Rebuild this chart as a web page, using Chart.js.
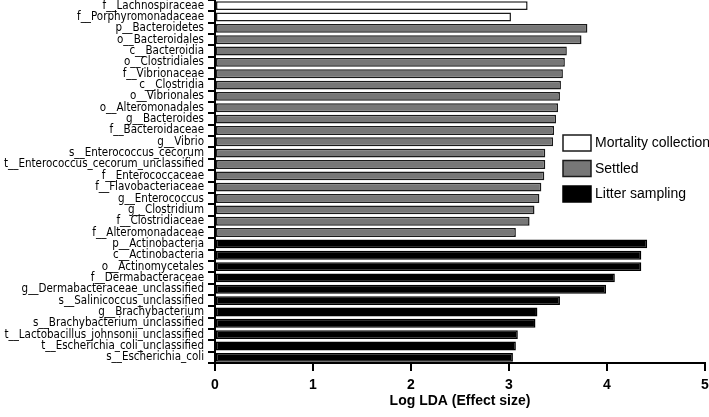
<!DOCTYPE html>
<html>
<head>
<meta charset="utf-8">
<script src="https://cdn.jsdelivr.net/npm/chart.js@4.4.0/dist/chart.umd.min.js"></script>
<style>
  html, body { margin: 0; padding: 0; background: #fff; }
  #wrap { width: 709px; height: 417px; position: relative; }
</style>
</head>
<body>
<div id="wrap"><canvas id="ldaChart"></canvas></div>
<script>
// groups, top to bottom
const groupNames = ['Mortality collection', 'Settled', 'Litter sampling'];

const mortalityLabels = ['f__Lachnospiraceae', 'f__Porphyromonadaceae'];
const mortalityValues = [3.19, 3.02];

const settledLabels = [
    'p__Bacteroidetes', 'o__Bacteroidales', 'c__Bacteroidia', 'o__Clostridiales',
    'f__Vibrionaceae', 'c__Clostridia', 'o__Vibrionales', 'o__Alteromonadales',
    'g__Bacteroides', 'f__Bacteroidaceae', 'g__Vibrio', 's__Enterococcus_cecorum',
    't__Enterococcus_cecorum_unclassified', 'f__Enterococcaceae', 'f__Flavobacteriaceae',
    'g__Enterococcus', 'g__Clostridium', 'f__Clostridiaceae', 'f__Alteromonadaceae'
];
const settledValues = [3.80, 3.74, 3.59, 3.57, 3.55, 3.53, 3.52, 3.50, 3.48, 3.46, 3.45,
    3.37, 3.37, 3.36, 3.33, 3.31, 3.26, 3.21, 3.07];

const litterLabels = [
    'p__Actinobacteria', 'c__Actinobacteria', 'o__Actinomycetales', 'f__Dermabacteraceae',
    'g__Dermabacteraceae_unclassified', 's__Salinicoccus_unclassified', 'g__Brachybacterium',
    's__Brachybacterium_unclassified', 't__Lactobacillus_johnsonii_unclassified',
    't__Escherichia_coli_unclassified', 's__Escherichia_coli'
];
const litterValues = [4.41, 4.35, 4.35, 4.08, 3.99, 3.52, 3.29, 3.27, 3.09, 3.07, 3.04];

const xTicks = [0, 1, 2, 3, 4, 5];

const allLabels = mortalityLabels.concat(settledLabels, litterLabels);
const groupLabels = [mortalityLabels, settledLabels, litterLabels];
const groupValues = [mortalityValues, settledValues, litterValues];
const fills = ['#ffffff', '#777777', '#000000'];
const borders = ['#1a1a1a', '#1a1a1a', '#000000'];

// one dataset per group, null where the category belongs to another group
const datasets = [];
for (let g = 0; g < groupNames.length; g++) {
    const data = allLabels.map(function(lab) {
        const i = groupLabels[g].indexOf(lab);
        return i >= 0 ? groupValues[g][i] : null;
    });
    datasets.push({
        label: groupNames[g],
        data: data,
        backgroundColor: fills[g],
        borderColor: borders[g],
        borderWidth: 1.5,
        borderSkipped: false,
        barPercentage: 0.78,
        categoryPercentage: 1.0,
        grouped: false
    });
}

// legend drawn inside the plot, boxes + text
const boxLegend = {
    id: 'boxLegend',
    afterDraw(chart) {
        const ctx = chart.ctx;
        ctx.save();
        ctx.font = '14px "Liberation Sans", Arial, sans-serif';
        ctx.textBaseline = 'middle';
        ctx.textAlign = 'left';
        const x = 563, y0 = 135, step = 25.5;
        for (let g = 0; g < groupNames.length; g++) {
            const y = y0 + g * step;
            ctx.fillStyle = fills[g];
            ctx.fillRect(x, y, 28, 16);
            ctx.lineWidth = 1.5;
            ctx.strokeStyle = borders[g];
            ctx.strokeRect(x, y, 28, 16);
            ctx.fillStyle = '#000';
            ctx.fillText(groupNames[g], x + 32, y + 8.5);
        }
        ctx.restore();
    }
};

const ctx = document.getElementById('ldaChart').getContext('2d');
const myChart = new Chart(ctx, {
    type: 'bar',
    data: {
        labels: allLabels,
        datasets: datasets
    },
    options: {
        indexAxis: 'y',
        responsive: true,
        maintainAspectRatio: false,
        animation: false,
        layout: { padding: { top: 0, right: 4, left: 0, bottom: 0 } },
        plugins: {
            legend: { display: false },
            tooltip: { enabled: false }
        },
        scales: {
            x: {
                type: 'linear',
                min: 0,
                max: 5,
                afterBuildTicks: function(scale) {
                    scale.ticks = xTicks.map(function(v) { return { value: v }; });
                },
                afterFit: function(scale) {
                    scale.height = 54;
                    scale.paddingRight = 0;
                    scale.paddingLeft = 0;
                },
                grid: {
                    drawOnChartArea: false,
                    drawTicks: true,
                    tickLength: 8,
                    color: '#000',
                    lineWidth: 2
                },
                border: { display: true, color: '#000', width: 2 },
                ticks: {
                    color: '#000',
                    padding: 6,
                    font: { family: '"Liberation Sans", Arial, sans-serif', size: 14, weight: 'bold' }
                },
                title: {
                    display: true,
                    text: 'Log LDA (Effect size)',
                    color: '#000',
                    padding: { top: 0, bottom: 7 },
                    font: { family: '"Liberation Sans", Arial, sans-serif', size: 14, weight: 'bold' }
                }
            },
            y: {
                afterFit: function(scale) {
                    scale.width = 215;
                    scale.paddingTop = 0;
                    scale.paddingBottom = 0;
                },
                grid: {
                    drawOnChartArea: false,
                    drawTicks: true,
                    tickLength: 7,
                    color: '#000',
                    lineWidth: 2
                },
                border: { display: true, color: '#000', width: 2 },
                ticks: {
                    color: '#000',
                    padding: 4,
                    autoSkip: false,
                    font: { family: '"Liberation Sans Narrow", "DejaVu Sans Condensed", sans-serif', size: 11.5 }
                }
            }
        }
    },
    plugins: [boxLegend]
});
</script>
</body>
</html>
